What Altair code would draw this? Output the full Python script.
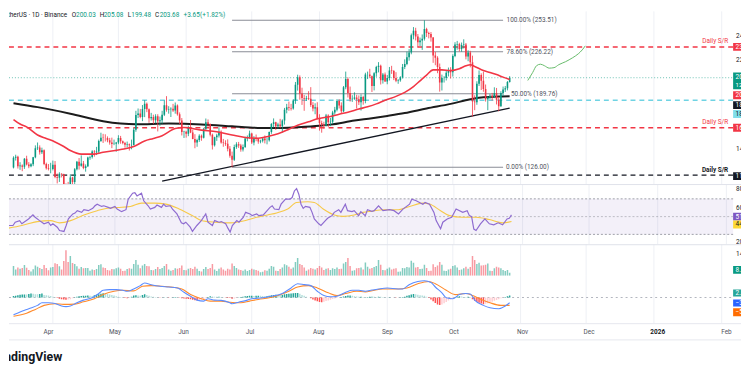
import altair as alt
import numpy as np
import pandas as pd

# ---------------- data ----------------
START = pd.Timestamp("2025-03-14")
first_open = 125.9
closes = [
    134.2, 135.1, 126.8, 127.6, 126.4, 133.4, 128.5, 127.0, 128.6, 134.6,
    142.4, 143.2, 139.0, 140.8, 128.8, 125.2, 124.6, 124.6, 128.3, 117.6,
    116.9, 120.3, 120.0, 106.2, 105.6, 105.0, 117.2, 113.3, 124.3, 130.8,
    127.4, 129.2, 125.3, 126.8, 134.5, 134.9, 139.6, 139.0, 139.6, 148.8,
    151.6, 151.5, 151.4, 149.5, 147.6, 146.2, 146.4, 147.5, 151.4, 148.6,
    147.0, 145.5, 146.0, 145.2, 145.4, 158.6, 171.4, 172.6, 169.6, 176.5,
    181.2, 176.4, 168.6, 169.6, 166.9, 170.2, 166.0, 166.9, 171.6, 179.8,
    176.0, 176.3, 176.8, 175.3, 179.6, 172.0, 166.5, 156.6, 156.8, 155.0,
    161.0, 156.2, 150.6, 147.4, 149.6, 153.4, 151.6, 159.5, 165.0, 163.6,
    154.3, 145.0, 152.0, 153.5, 156.9, 147.5, 147.0, 146.5, 142.0, 136.0,
    132.5, 143.6, 146.0, 144.8, 141.5, 143.5, 151.0, 152.3, 155.2, 147.5,
    151.5, 150.9, 148.4, 149.0, 151.0, 149.4, 149.5, 156.5, 163.5, 165.0,
    161.5, 163.0, 161.5, 166.5, 176.0, 178.0, 177.5, 177.0, 184.0, 197.5,
    204.0, 190.0, 186.0, 185.5, 186.0, 185.5, 180.0, 177.0, 178.0, 168.0,
    164.5, 163.0, 162.0, 171.0, 165.0, 165.5, 173.5, 176.0, 183.5, 179.5,
    174.5, 195.5, 202.5, 190.5, 185.0, 185.5, 186.5, 185.0, 182.5, 187.0,
    183.5, 206.5, 206.5, 205.0, 196.5, 207.5, 213.0, 214.0, 201.5, 206.5,
    200.5, 203.5, 210.0, 209.5, 203.5, 201.0, 201.5, 204.0, 213.0, 215.5,
    221.5, 225.5, 240.5, 244.5, 239.5, 234.5, 236.0, 237.5, 246.0, 242.5,
    241.5, 238.5, 223.0, 221.0, 213.0, 199.5, 203.5, 203.5, 208.0, 209.5,
    208.5, 222.5, 232.5, 233.0, 228.5, 232.0, 232.5, 222.0, 225.5, 217.0,
    183.0, 182.5, 198.5, 206.0, 201.0, 194.0, 185.0, 186.5, 188.0, 187.0,
    190.5, 184.5, 179.0, 190.5, 193.5, 194.5, 200.03, 203.68,
]
highs = [
    135.5, 136.9, 136.0, 130.4, 128.5, 134.0, 136.0, 130.5, 129.6, 135.0,
    145.0, 147.5, 145.0, 143.0, 141.5, 130.0, 128.8, 129.9, 131.8, 131.4,
    120.6, 121.7, 120.8, 120.4, 112.0, 113.3, 120.0, 117.7, 125.3, 131.5,
    134.0, 136.3, 131.5, 128.5, 135.2, 136.0, 140.8, 140.9, 143.7, 150.0,
    156.0, 155.0, 154.6, 152.8, 151.5, 151.7, 150.0, 148.0, 153.8, 153.2,
    149.2, 148.0, 148.3, 146.6, 150.0, 160.0, 175.0, 177.0, 176.6, 180.0,
    184.1, 182.2, 177.0, 173.2, 171.6, 172.0, 172.0, 170.0, 175.0, 184.0,
    187.7, 179.0, 178.0, 181.0, 182.2, 180.5, 173.6, 168.7, 157.7, 157.7,
    162.0, 167.0, 158.6, 154.7, 150.8, 154.6, 154.4, 160.2, 168.3, 167.5,
    164.0, 155.2, 152.5, 155.0, 160.6, 158.0, 150.6, 149.4, 150.2, 144.4,
    139.6, 145.6, 147.7, 148.0, 146.3, 145.8, 152.5, 153.6, 157.8, 156.0,
    153.0, 154.4, 151.5, 149.9, 152.0, 153.6, 151.5, 157.0, 164.3, 168.4,
    165.5, 164.6, 168.0, 167.6, 177.5, 181.0, 183.0, 181.0, 185.0, 200.0,
    206.3, 205.7, 195.0, 188.8, 188.0, 192.0, 195.5, 182.5, 181.5, 182.4,
    172.0, 166.4, 165.5, 172.3, 172.0, 168.8, 175.0, 178.4, 185.0, 185.0,
    182.3, 196.5, 209.0, 204.0, 196.0, 188.5, 191.0, 188.8, 188.3, 189.3,
    188.0, 208.0, 209.0, 211.4, 205.6, 208.5, 214.0, 217.2, 215.0, 207.8,
    208.2, 206.0, 213.0, 214.0, 210.4, 208.5, 202.5, 205.0, 215.6, 219.6,
    226.3, 228.5, 242.0, 247.6, 247.0, 241.6, 238.5, 241.2, 253.51, 247.0,
    243.6, 243.3, 239.0, 226.0, 222.3, 216.0, 206.4, 205.0, 210.0, 212.5,
    212.8, 224.0, 234.5, 235.6, 234.0, 234.2, 237.0, 233.8, 227.5, 227.0,
    222.8, 188.4, 200.6, 210.0, 207.5, 209.0, 197.8, 187.7, 189.6, 190.5,
    195.4, 194.8, 187.0, 192.0, 196.0, 196.5, 200.8, 205.08,
]
lows = [
    125.0, 131.8, 124.9, 123.8, 122.6, 124.6, 127.6, 125.2, 126.0, 127.0,
    133.8, 141.0, 137.0, 137.5, 127.8, 124.0, 123.3, 120.8, 123.3, 116.5,
    112.0, 113.3, 117.2, 104.0, 95.3, 103.0, 100.9, 107.5, 111.5, 123.3,
    124.0, 126.5, 124.3, 122.2, 126.2, 132.5, 133.6, 135.2, 136.6, 137.8,
    148.0, 147.1, 148.4, 147.7, 145.6, 142.6, 145.2, 139.5, 146.0, 146.4,
    145.9, 143.0, 143.3, 140.5, 141.6, 145.0, 156.8, 168.7, 168.5, 166.0,
    169.5, 173.8, 164.6, 166.5, 163.5, 164.2, 157.1, 162.0, 163.8, 170.4,
    174.2, 172.5, 169.6, 174.0, 172.5, 170.8, 163.5, 153.6, 151.4, 151.7,
    153.0, 155.6, 150.3, 142.5, 143.8, 148.0, 149.0, 151.0, 158.0, 160.6,
    152.8, 141.4, 144.0, 148.9, 151.8, 146.5, 143.8, 144.6, 139.8, 134.3,
    126.0, 131.5, 142.0, 142.8, 139.5, 139.7, 142.8, 148.5, 150.7, 146.2,
    145.0, 148.6, 146.4, 146.8, 147.5, 146.7, 145.9, 148.3, 155.0, 160.5,
    158.4, 159.4, 159.8, 156.0, 163.0, 172.8, 175.0, 175.2, 176.0, 181.0,
    192.5, 184.6, 180.1, 175.0, 183.6, 184.3, 178.4, 174.5, 172.0, 167.5,
    157.8, 156.0, 159.5, 161.3, 160.9, 161.7, 163.5, 171.6, 174.5, 177.0,
    172.8, 173.8, 193.7, 186.5, 183.0, 182.7, 184.5, 177.0, 180.0, 175.2,
    180.3, 181.5, 202.5, 203.3, 191.3, 192.7, 204.5, 208.3, 197.8, 198.6,
    200.1, 198.0, 201.3, 207.0, 201.6, 199.8, 198.4, 200.2, 203.0, 211.2,
    214.5, 218.5, 224.0, 237.0, 236.0, 230.0, 231.2, 227.8, 235.9, 239.0,
    237.8, 235.0, 216.6, 214.5, 207.6, 191.6, 192.6, 199.5, 201.3, 204.8,
    203.0, 204.7, 221.5, 228.0, 226.5, 226.2, 229.0, 219.6, 218.0, 212.7,
    170.0, 175.5, 180.2, 196.5, 193.0, 191.5, 183.0, 175.5, 185.0, 183.9,
    186.0, 180.5, 174.6, 178.5, 187.8, 191.3, 192.7, 199.48,
]
volumes = [
    5.0, 3.2, 4.2, 3.6, 3.9, 5.5, 4.1, 3.0, 2.2, 3.3,
    5.2, 4.6, 4.0, 3.5, 5.5, 4.0, 2.8, 4.2, 4.5, 6.3,
    6.0, 4.8, 3.2, 7.5, 13.0, 7.0, 10.0, 6.5, 6.0, 4.8,
    3.6, 4.5, 3.8, 3.9, 4.0, 2.6, 3.2, 2.9, 3.5, 5.5,
    5.8, 4.2, 4.0, 3.0, 2.7, 3.5, 3.3, 3.8, 4.2, 3.6,
    2.4, 2.6, 3.4, 3.8, 3.6, 6.0, 8.0, 5.6, 3.8, 5.2,
    6.0, 5.0, 4.8, 3.0, 2.8, 3.4, 4.4, 3.4, 4.0, 5.0,
    6.0, 3.2, 2.6, 3.0, 3.8, 3.6, 4.0, 5.2, 3.0, 2.8,
    3.6, 4.0, 3.4, 4.6, 3.6, 2.4, 2.2, 3.4, 4.4, 3.5,
    4.0, 6.0, 3.2, 2.4, 3.6, 4.2, 3.2, 2.6, 3.6, 3.2,
    6.2, 5.0, 4.0, 3.2, 3.0, 2.6, 3.2, 2.4, 3.0, 3.6,
    3.2, 3.0, 2.6, 1.8, 2.0, 2.8, 2.6, 3.6, 5.0, 4.6,
    2.6, 2.4, 3.4, 4.2, 5.8, 5.4, 4.6, 3.6, 4.2, 7.0,
    9.0, 6.0, 5.5, 4.2, 2.6, 3.2, 4.0, 3.6, 3.2, 4.0,
    5.0, 4.2, 3.0, 3.6, 3.8, 3.0, 3.8, 3.4, 4.2, 3.4,
    3.6, 6.2, 7.0, 9.0, 5.0, 2.6, 2.8, 3.8, 4.0, 4.2,
    3.2, 6.8, 4.6, 3.6, 4.0, 4.4, 5.0, 8.0, 5.6, 3.0,
    2.8, 3.6, 4.2, 3.2, 3.6, 3.8, 2.0, 2.2, 4.0, 3.8,
    4.4, 4.2, 7.6, 6.6, 4.2, 4.4, 3.4, 3.6, 5.6, 4.0,
    2.4, 2.6, 5.8, 4.4, 5.2, 7.0, 5.6, 2.6, 2.4, 3.2,
    3.6, 5.0, 5.4, 4.2, 3.0, 3.2, 3.8, 4.6, 3.6, 4.4,
    10.0, 8.0, 6.0, 6.6, 5.2, 5.4, 5.6, 6.2, 2.6, 2.4,
    3.8, 4.6, 4.2, 3.8, 3.0, 2.4, 3.0, 1.5,
]
macd_hist = [
    1.0, 1.3, 1.6, 2.0, 2.1, 2.2, 2.1, 2.6, 2.9, 2.8,
    2.4, 2.3, 2.6, 2.9, 1.9, 1.6, 1.4, 1.0, 0.6, 0.2,
    -0.4, -0.9, -1.3, -1.5, -1.6, -1.5, -1.3, -0.6, 0.1, 0.6,
    0.9, 1.1, 1.2, 1.3, 1.4, 1.3, 1.1, 1.6, 2.0, 2.4,
    2.8, 3.1, 2.9, 2.6, 2.2, 1.8, 1.4, 0.9, 0.6, 0.3,
    0.0, -0.3, -0.5, -0.2, 0.6, 1.4, 1.6, 1.5, 1.3, 1.9,
    2.4, 1.9, 1.3, 0.7, 0.5, 0.3, 0.1, -0.1, 0.0, 0.2,
    0.1, -0.1, 0.0, 0.1, 0.3, 0.1, -0.2, -0.5, -0.7, -0.9,
    -1.1, -1.2, -1.6, -1.9, -2.2, -1.9, -1.6, -1.4, -0.6, 0.4,
    0.9, 0.8, 0.6, 0.5, 0.5, 0.4, 0.2, -0.1, -0.3, -0.4,
    -0.9, -0.8, -0.4, 0.1, 0.3, 0.6, 0.9, 1.1, 1.2, 1.3,
    1.1, 1.2, 1.3, 1.2, 1.0, 0.9, 0.9, 1.2, 1.6, 1.9,
    2.0, 1.9, 1.8, 1.9, 2.3, 2.6, 2.8, 2.9, 3.1, 3.3,
    3.3, 2.8, 1.9, 1.2, 0.6, 0.0, -0.6, -1.4, -2.2, -2.8,
    -3.2, -3.4, -3.0, -2.6, -2.1, -1.6, -1.0, -0.7, -0.4, 0.0,
    0.4, 0.8, 1.0, 1.4, 1.5, 1.2, 0.9, 0.7, 0.5, 0.5,
    0.4, 0.3, 0.4, 0.5, 0.6, 0.5, 0.4, 0.6, 0.5, 0.3,
    0.2, 0.1, 0.1, 0.0, 0.0, -0.1, 0.0, 0.1, 0.3, 0.6,
    1.2, 1.7, 2.2, 2.5, 2.4, 2.0, 1.6, 1.4, 1.2, 0.6,
    -0.3, -1.5, -2.8, -4.0, -5.0, -5.5, -5.0, -4.2, -3.2, -2.2,
    -1.4, -0.6, 0.2, 0.7, 0.9, 0.8, 0.4, 0.3, 0.6, 0.4,
    -1.2, -2.4, -3.2, -3.8, -4.3, -4.8, -4.6, -4.2, -3.6, -3.0,
    -2.4, -1.8, -1.2, -0.6, -0.1, 0.4, 0.9, 1.4,
]

# moving averages (day index from START, value)
sma50_day = [0, 3, 6, 11, 15, 19, 23, 26, 31, 37, 41, 49, 55, 60, 64, 68, 74, 78, 86, 93,
             100, 106, 112, 117, 121, 126, 130, 135, 139, 145, 149, 153, 158, 162, 166, 170, 175, 179, 183, 186,
             189, 192, 196, 200, 204, 207, 209, 211, 215, 218, 221, 224, 227]
sma50_val = [167.4, 163.5, 161, 154, 151, 148, 144, 140.5, 137.4, 137.4, 139, 141.4, 144, 148.8, 151, 153.4, 159.6, 160.5, 158.2, 156.8,
             154, 151.8, 151.2, 153, 155, 159, 162.5, 165.5, 168, 170, 172, 173.8, 176.5, 178.5, 181, 184.2, 187.5, 191, 196, 201,
             206, 210.5, 210.5, 209.9, 211.5, 214, 215, 213.5, 209.9, 208.3, 206.4, 204.2, 202.2]
sma200_day = [0, 11, 26, 41, 49, 56, 71, 86, 100, 108, 116, 130, 140, 145, 156, 164, 171, 179, 189, 200, 209, 215, 222, 227]
sma200_val = [181.6, 178.2, 172.5, 166, 164, 163.3, 163.9, 163.2, 161.5, 160.5, 160, 160.8, 162, 163, 166.5, 168.5, 170.5, 173, 177, 181, 185, 186.8, 187.3, 187.6]

rsi_pts = [(0, 40), (2, 40), (3, 43.7), (5, 45.5), (6, 42), (9, 47.4), (11, 51.9), (12, 49.3), (14, 45.5), (16, 41.9),
           (18, 43.7), (19, 40), (20, 41.9), (22, 38.1), (23, 34.4), (25, 33.3), (26, 40), (27, 47.4), (29, 53), (30, 54),
           (31, 56.7), (33, 54.8), (34, 57.8), (36, 56.7), (38, 59.3), (39, 62.2), (40, 64), (42, 61.5), (43, 62.2), (45, 60.4),
           (46, 59.3), (48, 61.5), (49, 58.5), (51, 55.6), (53, 57.8), (54, 69.6), (56, 76.3), (57, 77), (58, 73.3), (60, 76.3),
           (61, 67.8), (63, 62.2), (64, 58.5), (66, 60.4), (67, 63), (69, 60.4), (70, 64), (71, 61.5), (73, 62.2), (74, 58.5),
           (76, 53), (78, 43), (79, 41.9), (80, 43.7), (82, 38.1), (83, 33.3), (85, 40), (87, 45.5), (88, 49.3), (89, 53),
           (90, 43.7), (92, 40), (93, 45.5), (95, 43.7), (96, 44.4), (98, 41.9), (99, 37), (100, 32.6), (101, 40), (103, 45.5),
           (104, 43.7), (106, 49.3), (107, 54.8), (109, 53), (110, 51.1), (112, 53), (113, 51.1), (115, 51.9), (116, 54.8), (118, 60.4),
           (119, 62.2), (120, 58.5), (122, 57.8), (123, 64), (125, 69.6), (127, 69.6), (128, 71.5), (129, 78.9), (130, 81.5), (131, 75.2),
           (132, 64), (133, 59.3), (134, 61.5), (136, 60.4), (137, 54.8), (138, 47.4), (140, 41.9), (141, 40), (143, 45.5), (144, 48.1),
           (146, 51.1), (147, 54.8), (149, 57.8), (150, 54.8), (152, 64), (153, 56.7), (155, 55.6), (156, 56.7), (158, 51.1), (159, 55.6),
           (161, 51.1), (162, 57.8), (164, 56), (165, 56.7), (167, 62.2), (169, 56.7), (172, 57.8), (174, 56.7), (176, 53), (178, 58.5),
           (181, 64), (182, 69.6), (184, 67.8), (187, 64), (188, 65.9), (190, 64), (192, 54.8), (193, 45.5), (195, 36.3), (196, 43.7),
           (198, 47.4), (200, 49.3), (202, 58.5), (205, 54.8), (207, 56.7), (208, 51.1), (209, 50), (210, 36), (211, 34.4), (213, 41.9),
           (215, 47.4), (217, 41.9), (219, 40.7), (221, 43), (223, 40.7), (225, 47.4), (226, 48.1), (227, 51.9)]
rsi_ma_pts = [(0, 37), (6, 40), (13, 44.4), (19, 45.5), (23, 43), (28, 45.5), (34, 51.9), (40, 56.7), (44, 59.2), (49, 60.3),
              (55, 61.4), (60, 65.2), (66, 65.2), (71, 64.1), (77, 58.6), (83, 51.1), (87, 45.6), (93, 43.7), (100, 43), (107, 45.6),
              (112, 49.2), (117, 51.9), (121, 54.1), (126, 58.6), (130, 65.9), (135, 66.7), (138, 65.9), (142, 58.6), (147, 51.9), (151, 50.3),
              (156, 51.9), (160, 54.8), (164, 56.1), (169, 57.8), (176, 57.8), (181, 61.4), (187, 65.2), (190, 64.1), (195, 56.7), (199, 51.1),
              (205, 49.2), (211, 49.2), (217, 46.7), (223, 43), (227, 44.4)]
macd_pts = [(0, -12.5), (3, -10.5), (7, -8.1), (11, -5.7), (13, -3.8), (16, -3.8), (19, -4.3), (22, -6.2), (24, -6.6), (26, -6.2),
            (29, -3.8), (32, -1.9), (36, -0.2), (39, 2.9), (41, 5.2), (44, 5.7), (47, 5.7), (50, 5.2), (52, 4.5), (55, 6.2),
            (58, 8.6), (60, 10.5), (63, 9.3), (67, 8.1), (71, 7.6), (75, 6.9), (78, 3.8), (81, 0.9), (84, -1.9), (87, -2.6),
            (89, -0.9), (92, -1.9), (95, -2.1), (99, -3.8), (100, -4.5), (103, -3.4), (107, -1.9), (109, -0.9), (114, -0.2), (118, 0.9),
            (123, 2.9), (127, 6.9), (130, 10), (133, 9.3), (136, 8.6), (139, 4.5), (142, 1.4), (145, 0.5), (148, 0.9), (152, 3.8),
            (155, 5.2), (158, 5.2), (161, 4.5), (164, 5.4), (167, 6.2), (171, 6.9), (176, 6.2), (178, 6.2), (181, 9.3), (185, 11.6),
            (188, 12.1), (191, 10.9), (193, 7.6), (196, 3.4), (198, -0.2), (201, -0.9), (204, 2.1), (207, 2.9), (209, 2.6), (211, -1.9),
            (215, -5.7), (218, -7.4), (222, -8.1), (225, -6.2), (227, -3.8)]
signal_pts = [(0, -13.6), (6, -11.4), (10, -8.6), (14, -5.7), (19, -4.5), (23, -5), (28, -4.8), (32, -3.1), (37, -0.9), (41, 2.1),
              (46, 4.5), (50, 5.2), (55, 4.8), (59, 8.1), (63, 8.6), (68, 8.1), (72, 7.6), (77, 6.2), (81, 2.1), (86, -0.9),
              (90, -2.6), (95, -2.6), (99, -3.4), (104, -3.8), (108, -2.6), (112, -1.4), (117, -0.2), (121, 1.4), (126, 4.5), (130, 7.6),
              (135, 8.6), (139, 6.9), (144, 3.4), (148, 1.4), (152, 2.9), (157, 4.5), (161, 4.1), (164, 4.9), (169, 6.2), (176, 6.2),
              (180, 6.9), (185, 10), (190, 11.6), (193, 10), (198, 5.2), (202, 2.1), (207, 2.9), (210, 1.4), (214, -1.4), (218, -3.8),
              (223, -5.7), (227, -5.7)]

# drawn levels / annotations
sr_levels = [230.4, 184.2, 160.2, 119.2]
sr_colors = ["#f23645", "#6fd3e3", "#f23645", "#131722"]
last_price = 203.68
fib_levels = [253.51, 226.22, 189.76, 126.00]
fib_names = ["100.00% (253.51)", "78.60% (226.22)", "50.00% (189.76)", "0.00% (126.00)"]
fib_from, fib_to = "2025-06-22", "2025-10-24"
trend_dates = ["2025-05-21", "2025-10-27"]
trend_prices = [114.0, 177.3]
path_day = [235.3, 237.5, 239.3, 241.1, 242.9, 245.1, 247.3, 249.5, 252.6, 255.8, 258.4, 260.2, 261.6]
path_price = [201.3, 208.1, 214.1, 215.4, 214.1, 212.0, 212.4, 215.0, 217.6, 221.0, 224.4, 227.8, 231.3]
month_dates = ["2025-04-01", "2025-05-01", "2025-06-01", "2025-07-01", "2025-08-01", "2025-09-01",
               "2025-10-01", "2025-11-01", "2025-12-01", "2026-01-01", "2026-02-01"]
month_labels = ["Apr", "May", "Jun", "Jul", "Aug", "Sep", "Oct", "Nov", "Dec", "2026", "Feb"]

# ---------------- frames ----------------
def dnum(s):
    return (pd.Timestamp(s) - START).days

UP, DOWN = "#089981", "#f23645"
n = len(closes)
opens = [first_open] + closes[:-1]
cd = pd.DataFrame({"day": np.arange(n), "open": opens, "high": highs, "low": lows,
                   "close": closes, "vol": volumes, "hist": macd_hist})
cd["col"] = np.where(cd["close"] >= cd["open"], UP, DOWN)
prev = cd["hist"].shift(1).fillna(0)
cd["hcol"] = np.where(cd["hist"] >= 0,
                      np.where(cd["hist"] >= prev, "#26a69a", "#b2dfdb"),
                      np.where(cd["hist"] < prev, "#ff5252", "#ffcdd2"))

def pts(p):
    return pd.DataFrame({"day": [a for a, _ in p], "v": [b for _, b in p]})

sma50 = pd.DataFrame({"day": sma50_day, "v": sma50_val})
sma200 = pd.DataFrame({"day": sma200_day, "v": sma200_val})
months = pd.DataFrame({"day": [dnum(d) for d in month_dates], "lab": month_labels})
months["bold"] = months["lab"] == "2026"
levels = pd.DataFrame({"p": sr_levels, "c": sr_colors})
fib = pd.DataFrame({"d0": dnum(fib_from), "d1": dnum(fib_to), "p": fib_levels, "t": fib_names})
trend = pd.DataFrame({"day": [dnum(d) for d in trend_dates], "v": trend_prices})
path = pd.DataFrame({"day": path_day, "v": path_price})
ONE = pd.DataFrame({"k": [0]})

# ---------------- layout helpers ----------------
FONT = "Roboto"
W = 742
PX_PER_DAY = 2.2457
X0 = 0.19
X1 = X0 + W / PX_PER_DAY
XS = alt.Scale(domain=[X0, X1], nice=False, zero=False)
GRID = "#eef0f5"


def X(f="day"):
    return alt.X(f"{f}:Q", scale=XS, axis=None)


def txt(text, x, y, color, size=6.5, align="left", weight="normal", baseline="middle"):
    return alt.Chart(ONE).mark_text(text=text, align=align, baseline=baseline, font=FONT,
                                    fontSize=size, fontWeight=weight, color=color, clip=True
                                    ).encode(x=alt.value(x), y=alt.value(y))


def box(y0, y1, fill, text, tcolor="#ffffff", ty=None):
    r = alt.Chart(ONE).mark_rect(color=fill, clip=True).encode(
        x=alt.value(734), x2=alt.value(W + 10), y=alt.value(y0), y2=alt.value(y1))
    return [r, txt(text, 736.5, (y0 + y1) / 2 if ty is None else ty, tcolor, size=6.5)]


def vgrid(h):
    return alt.Chart(months).mark_rule(color=GRID, strokeWidth=1).encode(
        x=X(), y=alt.value(0), y2=alt.value(h))


def hsep(color="#dfe2ea"):
    return alt.Chart(ONE).mark_rule(color=color, strokeWidth=1).encode(
        x=alt.value(0), x2=alt.value(W), y=alt.value(0.5))

# ---------------- price panel ----------------
HP = 175
PS = alt.Scale(domain=[111.45, 261.2], nice=False, zero=False)


def YP(f):
    return alt.Y(f"{f}:Q", scale=PS, axis=None)


price_layers = [vgrid(HP)]
price_layers.append(alt.Chart(levels).mark_rule(strokeDash=[5, 4], strokeWidth=1.5, clip=True).encode(
    y=YP("p"), x=alt.value(0), x2=alt.value(734), color=alt.Color("c:N", scale=None)))
price_layers.append(alt.Chart(pd.DataFrame({"p": [last_price]})).mark_rule(
    strokeDash=[1, 2], strokeWidth=1, color=UP, opacity=0.6, clip=True).encode(
    y=YP("p"), x=alt.value(0), x2=alt.value(734)))
price_layers.append(alt.Chart(fib).mark_rule(color="#8a8d96", strokeWidth=1.2, clip=True).encode(
    x=X("d0"), x2="d1:Q", y=YP("p")))
fib_lab = fib.copy()
fib_lab["dx"] = [3.5, 3.5, 8.0, 3.0]
for _, r in fib_lab.iterrows():
    price_layers.append(alt.Chart(pd.DataFrame([r])).mark_text(
        align="left", baseline="middle", dx=float(r["dx"]), font=FONT, fontSize=6.5,
        color="#50535e", clip=True).encode(x=X("d1"), y=YP("p"), text="t:N"))
price_layers.append(alt.Chart(trend).mark_line(color="#131722", strokeWidth=1.4, clip=True).encode(
    x=X(), y=YP("v")))
price_layers.append(alt.Chart(sma200).mark_line(color="#1c1c1c", strokeWidth=2.0, interpolate="monotone",
                                               clip=True).encode(x=X(), y=YP("v")))
price_layers.append(alt.Chart(cd).mark_rule(strokeWidth=0.8, clip=True).encode(
    x=X(), y=YP("low"), y2="high:Q", color=alt.Color("col:N", scale=None)))
price_layers.append(alt.Chart(cd).mark_bar(size=1.6, clip=True).encode(
    x=X(), y=YP("open"), y2="close:Q", color=alt.Color("col:N", scale=None)))
price_layers.append(alt.Chart(sma50).mark_line(color="#f23645", strokeWidth=1.6, interpolate="monotone",
                                              clip=True).encode(x=X(), y=YP("v")))
price_layers.append(alt.Chart(path).mark_line(color="#66bb6a", strokeWidth=1.0, interpolate="monotone",
                                             clip=True).encode(x=X(), y=YP("v")))
# "Daily S/R" captions
for p, c, w in [(230.4, "#f23645", "normal"), (160.2, "#f23645", "normal"), (119.2, "#131722", "bold")]:
    price_layers.append(alt.Chart(pd.DataFrame({"p": [p]})).mark_text(
        text="Daily S/R", align="right", baseline="middle", dy=-5.5, font=FONT, fontSize=6.5,
        fontWeight=w, color=c, clip=True).encode(x=alt.value(729), y=YP("p")))
# header
price_layers.append(txt("Solana / TetherUS · 1D · Binance", 59, 4, "#131722", align="right"))
hx = [(63.5, "O", "#131722"), (68, "200.03", UP), (92, "H", "#131722"), (96, "205.08", UP),
      (120.3, "L", "#131722"), (124, "199.48", UP), (148, "C", "#131722"), (152.7, "203.68", UP),
      (177, "+3.65", UP), (193.7, "(+1.82%)", UP)]
for x, t, c in hx:
    price_layers.append(txt(t, x, 4, c))
# price scale labels on the right edge
for y, t in [(25, "240.00"), (49, "220.00"), (140, "140.00")]:
    price_layers.append(txt(t, 737, y, "#131722"))
price_layers += box(32, 40, "#f23645", "230.40")
price_layers += box(62, 79, UP, "203.68", ty=66.5)
price_layers.append(txt("12:20:41", 736.5, 74.5, "#ffffff", size=6))
price_layers += box(81, 89, "#f23645", "202.21")
price_layers += box(91, 99, "#131722", "187.61")
price_layers += box(100, 108, "#80deea", "184.20", "#131722")
price_layers += box(114, 122, "#f23645", "160.20")
price_layers += box(163, 171, "#131722", "119.20")
price = alt.layer(*price_layers).properties(width=W, height=HP)

# ---------------- RSI panel ----------------
HR = 61
RS = alt.Scale(domain=[18.9, 86.67], nice=False, zero=False)


def YR(f):
    return alt.Y(f"{f}:Q", scale=RS, axis=None)


rsi_layers = [vgrid(HR), hsep()]
rsi_layers.append(alt.Chart(ONE).mark_rect(color="#7e57c2", opacity=0.09).encode(
    x=alt.value(0), x2=alt.value(734), y=alt.datum(70, scale=RS, axis=None), y2=alt.datum(30)))
rsi_layers.append(alt.Chart(pd.DataFrame({"v": [70, 50, 30], "o": [0.7, 0.45, 0.7]})).mark_rule(
    strokeDash=[2, 2], strokeWidth=1, color="#787b86").encode(
    y=YR("v"), x=alt.value(0), x2=alt.value(734), opacity=alt.Opacity("o:Q", scale=None)))
rsi_layers.append(alt.Chart(pts(rsi_ma_pts)).mark_line(color="#f7c948", strokeWidth=1.1, interpolate="monotone",
                                                       clip=True).encode(x=X(), y=YR("v")))
rsi_layers.append(alt.Chart(pts(rsi_pts)).mark_line(color="#8e6bd0", strokeWidth=1.2, clip=True).encode(
    x=X(), y=YR("v")))
rsi_layers.append(txt("80.00", 737, 5, "#131722"))
rsi_layers.append(txt("60.00", 737, 24, "#131722"))
rsi_layers += box(29, 37, "#7e57c2", "51.90")
rsi_layers += box(37, 45, "#fdd835", "44.40", "#131722")
rsi_layers.append(txt("20.00", 737, 59, "#131722"))
rsi = alt.layer(*rsi_layers).properties(width=W, height=HR)

# ---------------- volume panel ----------------
HV = 32
VS = alt.Scale(domain=[0, 16], nice=False)
vol_layers = [vgrid(HV), hsep()]
vol_layers.append(alt.Chart(cd).mark_bar(size=1.5, opacity=0.5, clip=True).encode(
    x=X(), y=alt.Y("vol:Q", scale=VS, axis=None), color=alt.Color("col:N", scale=None)))
vol_layers.append(txt("14.35M", 737, 10, "#131722"))
vol_layers += box(22, 30, UP, "8.91M")
vol = alt.layer(*vol_layers).properties(width=W, height=HV)

# ---------------- MACD panel ----------------
HM = 48
MS = alt.Scale(domain=[-18.57, 15.71], nice=False, zero=False)


def YM(f):
    return alt.Y(f"{f}:Q", scale=MS, axis=None)


macd_layers = [vgrid(HM)]
macd_layers.append(alt.Chart(pd.DataFrame({"v": [0]})).mark_rule(
    strokeDash=[2, 3], strokeWidth=1, color="#b2b5be").encode(y=YM("v"), x=alt.value(0), x2=alt.value(734)))
macd_layers.append(alt.Chart(cd).mark_bar(size=1.5, clip=True).encode(
    x=X(), y=YM("hist"), y2=alt.datum(0), color=alt.Color("hcol:N", scale=None)))
macd_layers.append(alt.Chart(pts(signal_pts)).mark_line(color="#ff8a2b", strokeWidth=1.1, interpolate="monotone",
                                                        clip=True).encode(x=X(), y=YM("v")))
macd_layers.append(alt.Chart(pts(macd_pts)).mark_line(color="#5b8cff", strokeWidth=1.1, interpolate="monotone",
                                                      clip=True).encode(x=X(), y=YM("v")))
macd_layers += box(14, 21, "#26a69a", "2.12")
macd_layers += box(24, 31, "#2962ff", "−3.80")
macd_layers += box(33, 41, "#ff6d00", "−5.71")
macd = alt.layer(*macd_layers).properties(width=W, height=HM)

# ---------------- time axis / footer ----------------
HF = 43
foot_layers = [hsep("#e6e8ee")]
foot_layers.append(alt.Chart(ONE).mark_rule(color="#e6e8ee", strokeWidth=1).encode(
    x=alt.value(0), x2=alt.value(W), y=alt.value(17)))
foot_layers.append(alt.Chart(months[~months["bold"]]).mark_text(
    font=FONT, fontSize=6.5, color="#50535e", baseline="middle", clip=True).encode(
    x=X(), y=alt.value(9), text="lab:N"))
foot_layers.append(alt.Chart(months[months["bold"]]).mark_text(
    font=FONT, fontSize=6.5, fontWeight="bold", color="#131722", baseline="middle", clip=True).encode(
    x=X(), y=alt.value(9), text="lab:N"))
foot_layers.append(txt("TradingView", 54, 34, "#131722", size=12.5, align="right", weight="bold"))
foot = alt.layer(*foot_layers).properties(width=W, height=HF)

chart = alt.vconcat(price, rsi, vol, macd, foot, spacing=0, bounds="flush").properties(
    padding=0).configure_view(stroke=None)

chart.save("out.html", embed_options={"renderer": "svg", "actions": False})
